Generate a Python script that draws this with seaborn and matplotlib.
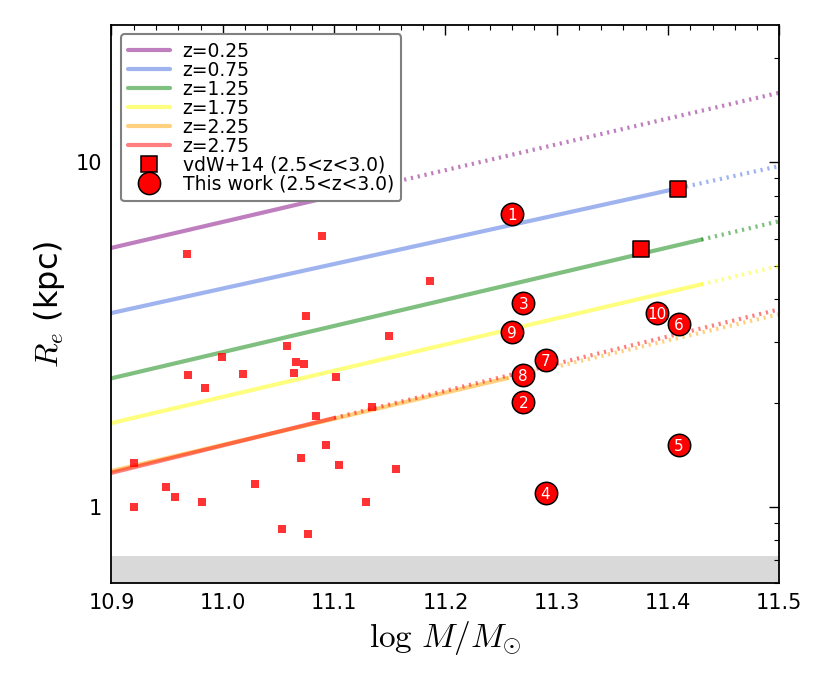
import matplotlib
matplotlib.use("Agg")
import matplotlib.pyplot as plt
from matplotlib.lines import Line2D
from matplotlib.ticker import FixedLocator, MultipleLocator, LogLocator, NullFormatter, FixedFormatter
import seaborn as sns
import pandas as pd

# ---------------- data ----------------
z_labels = ["z=0.25", "z=0.75", "z=1.25", "z=1.75", "z=2.25", "z=2.75"]
z_colors = ["purple", "royalblue", "green", "yellow", "orange", "red"]
m_lo = 10.9
m_hi = 11.5
m_solid_end = [11.09, 11.41, 11.43, 11.43, 11.255, 11.10]
r_lo = [5.64, 3.65, 2.36, 1.75, 1.27, 1.255]
r_mid = [7.84, 8.41, 5.96, 4.42, 2.36, 1.81]
r_hi = [15.9, 9.74, 6.74, 5.00, 3.62, 3.74]

# vdW+14 comparison sample (small squares)
vdw_mass = [10.968, 11.089, 11.186, 11.075, 11.149, 11.058, 10.999, 11.066, 11.073,
            10.969, 11.018, 11.064, 10.984, 11.102, 11.134, 11.084, 10.920, 11.093,
            11.070, 11.104, 11.156, 10.949, 11.029, 10.957, 10.981, 11.129, 10.920,
            11.053, 11.077]
vdw_re = [5.41, 6.09, 4.53, 3.57, 3.12, 2.92, 2.72, 2.63, 2.60,
          2.41, 2.43, 2.45, 2.21, 2.38, 1.95, 1.83, 1.34, 1.51,
          1.39, 1.32, 1.29, 1.145, 1.163, 1.066, 1.034, 1.031, 1.00,
          0.865, 0.835]

# vdW+14 large squares
vdw_big_mass = [11.409, 11.376]
vdw_big_re = [8.35, 5.59]

# This work
tw_id = ["1", "2", "3", "4", "5", "6", "7", "8", "9", "10"]
tw_mass = [11.26, 11.27, 11.27, 11.29, 11.41, 11.41, 11.29, 11.27, 11.26, 11.39]
tw_re = [7.07, 2.02, 3.90, 1.10, 1.515, 3.40, 2.67, 2.42, 3.22, 3.66]

# resolution limit band
band_lo, band_hi = 0.6, 0.72

xticks = [10.9, 11.0, 11.1, 11.2, 11.3, 11.4, 11.5]
yticks = [1, 10]

# ---------------- style ----------------
sns.set_style("white")
plt.rcParams["font.family"] = ["DejaVu Sans"]
plt.rcParams["mathtext.fontset"] = "cm"
plt.rcParams["lines.scale_dashes"] = False
plt.rcParams["text.color"] = "black"
plt.rcParams["axes.labelcolor"] = "black"
plt.rcParams["xtick.color"] = "black"
plt.rcParams["ytick.color"] = "black"

fig = plt.figure(figsize=(8.3, 6.92), dpi=100)
ax = fig.add_axes([0.1343, 0.1571, 0.8046, 0.8068])
ax.set_yscale("log")

ax.axhspan(band_lo, band_hi, color="0.85", lw=0, zorder=0)

dot = (0, (1.6, 3.4))
for i in range(len(z_labels)):
    sns.lineplot(x=[m_lo, m_solid_end[i]], y=[r_lo[i], r_mid[i]], ax=ax,
                 color=z_colors[i], alpha=0.5, lw=3, estimator=None, sort=False,
                 zorder=2, legend=False)
    sns.lineplot(x=[m_solid_end[i], m_hi], y=[r_mid[i], r_hi[i]], ax=ax,
                 color=z_colors[i], alpha=0.5, lw=3, estimator=None, sort=False,
                 linestyle=dot, zorder=2, legend=False)

df_vdw = pd.DataFrame({"mass": vdw_mass, "re": vdw_re})
sns.scatterplot(data=df_vdw, x="mass", y="re", ax=ax, marker="s", s=30,
                color="red", alpha=0.8, linewidth=0, zorder=3, legend=False)

df_big = pd.DataFrame({"mass": vdw_big_mass, "re": vdw_big_re})
sns.scatterplot(data=df_big, x="mass", y="re", ax=ax, marker="s", s=135,
                color="red", edgecolor="black", linewidth=1.1, zorder=4, legend=False)

df_tw = pd.DataFrame({"mass": tw_mass, "re": tw_re, "id": tw_id})
sns.scatterplot(data=df_tw, x="mass", y="re", ax=ax, marker="o", s=260,
                color="red", edgecolor="black", linewidth=1.1, zorder=5, legend=False)
for m, r, t in zip(tw_mass, tw_re, tw_id):
    ax.text(m, r, t, color="white", fontsize=11, ha="center", va="center_baseline",
            zorder=6)

ax.set_xlim(m_lo, m_hi)
ax.set_ylim(0.6, 25)

ax.xaxis.set_major_locator(FixedLocator(xticks))
ax.set_xticklabels([f"{v:.1f}" for v in xticks])
ax.xaxis.set_minor_locator(MultipleLocator(0.02))
ax.yaxis.set_major_locator(FixedLocator(yticks))
ax.yaxis.set_major_formatter(FixedFormatter([str(v) for v in yticks]))
ax.yaxis.set_minor_locator(LogLocator(base=10, subs=[2, 3, 4, 5, 6, 7, 8, 9]))
ax.yaxis.set_minor_formatter(NullFormatter())

ax.tick_params(which="both", direction="in", top=True, right=True,
               color="black", labelcolor="black")
ax.tick_params(which="major", length=7, width=1.0, labelsize=15, pad=7)
ax.tick_params(which="minor", length=3.5, width=0.8)
for sp in ax.spines.values():
    sp.set_color("black")
    sp.set_linewidth(1.3)

ax.set_xlabel(r"$\log\,M/M_{\odot}$", fontsize=24, labelpad=4, color="black")
ax.set_ylabel(r"$R_e$ (kpc)", fontsize=23, labelpad=6, color="black")

handles = [Line2D([], [], color=c, alpha=0.5, lw=3) for c in z_colors]
handles.append(Line2D([], [], ls="none", marker="s", markersize=11.5,
                      markerfacecolor="red", markeredgecolor="black", markeredgewidth=1.1))
handles.append(Line2D([], [], ls="none", marker="o", markersize=16,
                      markerfacecolor="red", markeredgecolor="black", markeredgewidth=1.1))
labels = z_labels + ["vdW+14 (2.5<z<3.0)", "This work (2.5<z<3.0)"]
leg = ax.legend(handles, labels, loc="upper left", fontsize=13.5, labelspacing=0.0,
                handlelength=2.2, handletextpad=0.7, borderpad=0.4, numpoints=1,
                frameon=True, fancybox=True, framealpha=1.0, borderaxespad=0.5)
leg.get_frame().set_edgecolor("0.5")
leg.get_frame().set_linewidth(1.5)
leg.set_zorder(10)
for txt in leg.get_texts():
    txt.set_color("black")

fig.savefig("out.png", dpi=100)
